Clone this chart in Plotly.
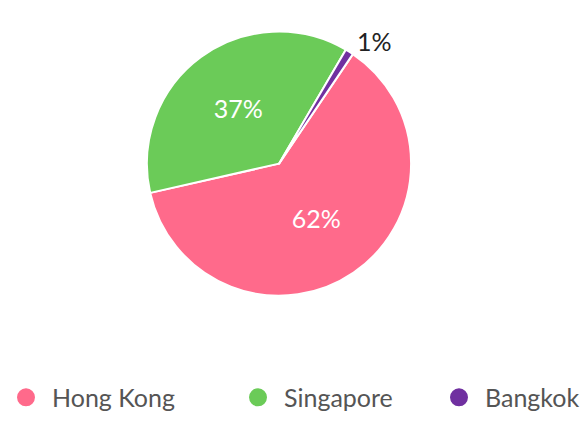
import plotly.graph_objects as go

categories = ["Hong Kong", "Singapore", "Bangkok"]
values = [62, 37, 1]
colors = ["#FF6A8B", "#6BCB58", "#7030A0"]
text_positions = ["inside", "inside", "outside"]

fig = go.Figure()
fig.add_trace(go.Pie(
    labels=categories,
    values=values,
    sort=False,
    direction="clockwise",
    rotation=34,
    marker=dict(colors=colors, line=dict(color="white", width=2)),
    textinfo="percent",
    texttemplate="%{percent:.0%}",
    textposition=text_positions,
    insidetextorientation="horizontal",
    insidetextfont=dict(family="Lato", size=25, color="white"),
    outsidetextfont=dict(family="Lato", size=25, color="#222222"),
    showlegend=False,
    hoverinfo="label+percent",
    domain=dict(x=[145/585, 413/585], y=[(421-300)/421, (421-32)/421]),
))

legend_names = ["legend", "legend2", "legend3"]
legend_pos = [(0.0, "left"), (0.3966, "left"), (1.0, "right")]
for name, col, lg in zip(categories, colors, legend_names):
    fig.add_trace(go.Scatter(
        x=[None], y=[None], mode="markers", name=name,
        marker=dict(color=col, size=20, symbol="circle",
                    line=dict(color=col, width=2)),
        legend=lg, showlegend=True, hoverinfo="skip",
    ))

legend_common = dict(
    orientation="h", yanchor="middle", y=0.042,
    itemwidth=42,
    font=dict(family="Lato", size=25, color="#555555"),
    bgcolor="rgba(0,0,0,0)", itemclick=False, itemdoubleclick=False,
)
fig.update_layout(
    width=585, height=421,
    margin=dict(l=0, r=0, t=0, b=0),
    paper_bgcolor="white", plot_bgcolor="white",
    font=dict(family="Lato"),
    xaxis=dict(visible=False), yaxis=dict(visible=False),
    legend=dict(x=legend_pos[0][0], xanchor=legend_pos[0][1], **legend_common),
    legend2=dict(x=legend_pos[1][0], xanchor=legend_pos[1][1], **legend_common),
    legend3=dict(x=legend_pos[2][0], xanchor=legend_pos[2][1], **legend_common),
)
fig.write_html("out.html", config={"displayModeBar": False},
               post_script="document.body.style.margin='0';")
